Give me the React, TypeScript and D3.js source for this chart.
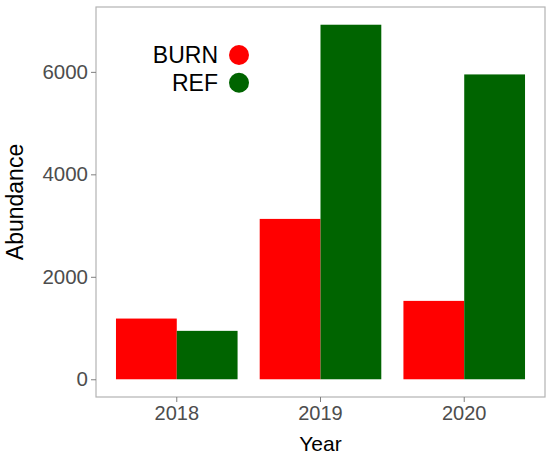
import React, { useEffect, useRef } from "react";
import * as d3 from "d3";

const years = ["2018", "2019", "2020"];
const series = ["BURN", "REF"];
const burnValues = [1185, 3130, 1530];
const refValues = [945, 6920, 5950];
const yTicks = [0, 2000, 4000, 6000];
const colors = ["#ff0000", "#006400"];

const width = 550;
const height = 459;

const App = () => {
  const chart = useRef<SVGSVGElement>(null);

  useEffect(() => {
    const margin = { top: 7, right: 5, bottom: 62, left: 96 };
    const svg = d3.select(chart.current);
    svg.selectAll("*").remove();

    const data = years.map((yr, i) => ({
      year: yr,
      values: [burnValues[i], refValues[i]],
    }));
    const maxV = d3.max(data, (d) => d3.max(d.values)) as number;

    const x = d3
      .scaleBand()
      .domain(years)
      .range([margin.left, width - margin.right])
      .paddingInner(0)
      .paddingOuter(0.062);
    const groupW = x.bandwidth() * 0.846;
    const xSub = d3.scaleBand().domain(series).range([0, groupW]);

    const y = d3
      .scaleLinear()
      .domain([-0.05 * maxV, maxV * 1.05])
      .range([height - margin.bottom, margin.top]);

    const font = "'Liberation Sans', Arial, sans-serif";

    // bars
    svg
      .append("g")
      .selectAll("g")
      .data(data)
      .join("g")
      .attr(
        "transform",
        (d) => `translate(${(x(d.year) as number) + (x.bandwidth() - groupW) / 2},0)`
      )
      .selectAll("rect")
      .data((d) => d.values.map((v, j) => ({ key: series[j], v, j })))
      .join("rect")
      .attr("x", (d) => xSub(d.key) as number)
      .attr("width", xSub.bandwidth())
      .attr("y", (d) => y(d.v))
      .attr("height", (d) => y(0) - y(d.v))
      .attr("fill", (d) => colors[d.j]);

    // panel border
    svg
      .append("rect")
      .attr("x", margin.left)
      .attr("y", margin.top)
      .attr("width", width - margin.left - margin.right)
      .attr("height", height - margin.top - margin.bottom)
      .attr("fill", "none")
      .attr("stroke", "#b3b3b3")
      .attr("stroke-width", 1.2);

    // y axis
    const yAxis = svg
      .append("g")
      .attr("transform", `translate(${margin.left},0)`)
      .call(
        d3
          .axisLeft(y)
          .tickValues(yTicks)
          .tickFormat(d3.format("d"))
          .tickSize(5)
          .tickPadding(3)
      );
    yAxis.select(".domain").remove();
    yAxis.selectAll("line").attr("stroke", "#7f7f7f");
    yAxis
      .selectAll("text")
      .attr("font-family", font)
      .attr("font-size", 20.5)
      .attr("fill", "#4d4d4d");

    // x axis
    const xAxis = svg
      .append("g")
      .attr("transform", `translate(0,${height - margin.bottom})`)
      .call(d3.axisBottom(x).tickSize(5).tickPadding(4));
    xAxis.select(".domain").remove();
    xAxis.selectAll("line").attr("stroke", "#7f7f7f");
    xAxis
      .selectAll("text")
      .attr("font-family", font)
      .attr("font-size", 20)
      .attr("fill", "#4d4d4d");

    // axis titles
    svg
      .append("text")
      .attr("x", (margin.left + width - margin.right) / 2)
      .attr("y", 451)
      .attr("text-anchor", "middle")
      .attr("font-family", font)
      .attr("font-size", 21)
      .attr("fill", "#000")
      .text("Year");
    svg
      .append("text")
      .attr(
        "transform",
        `translate(23,${(margin.top + height - margin.bottom) / 2}) rotate(-90)`
      )
      .attr("text-anchor", "middle")
      .attr("font-family", font)
      .attr("font-size", 23)
      .attr("fill", "#000")
      .text("Abundance");

    // legend
    const legend = svg
      .append("g")
      .selectAll("g")
      .data(series)
      .join("g")
      .attr("transform", (d, i) => `translate(239,${55 + i * 27.7})`);
    legend
      .append("circle")
      .attr("r", 10)
      .attr("fill", (d, i) => colors[i]);
    legend
      .append("text")
      .attr("x", -21)
      .attr("y", 8)
      .attr("text-anchor", "end")
      .attr("font-family", font)
      .attr("font-size", 23)
      .attr("fill", "#000")
      .text((d) => d);
  });

  return (
    <svg
      ref={chart}
      width={width}
      height={height}
      style={{ position: "absolute", left: 0, top: 0, background: "#fff" }}
    ></svg>
  );
};

export default App;
